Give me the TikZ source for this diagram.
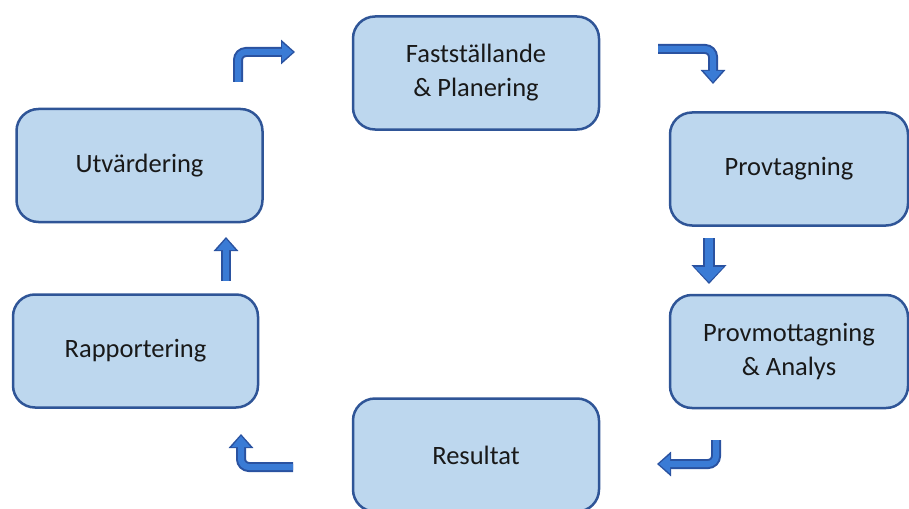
\documentclass[tikz,border=0pt]{standalone}
\usepackage{fontspec}
\setmainfont{Carlito}
\usetikzlibrary{arrows.meta}
\definecolor{boxfill}{HTML}{BDD7EE}
\definecolor{boxline}{HTML}{2F5597}
\definecolor{arrowfill}{HTML}{3A7BD5}
\definecolor{arrowline}{HTML}{2A52A0}
\tikzset{
  flowout/.style={draw=arrowline,line width=10pt,rounded corners=8pt,-{Triangle[length=14pt,width=24pt]}},
  flowin/.style={draw=arrowfill,line width=6pt,rounded corners=8pt,shorten >=2pt,-{Triangle[length=11pt,width=18pt]}},
  wideout/.style={flowout,line width=12pt,-{Triangle[length=19pt,width=34pt]}},
  widein/.style={flowin,line width=8pt,-{Triangle[length=15pt,width=28pt]}},
}
\newcommand{\flowarrow}[2][flow]{\draw[#1out] #2; \draw[#1in] #2;}
\begin{document}
\begin{tikzpicture}[x=1pt,y=-1pt,
  stage/.style={draw=boxline,line width=2.5pt,fill=boxfill,rounded corners=22pt,
    minimum width=246pt,minimum height=113pt,align=center,
    font=\fontsize{26.5}{34}\selectfont,text=black!90}]
  \useasboundingbox (0,0) rectangle (909,508);
  \node[stage] (v1) at (476,73) {Fastställande\\\& Planering};
  \node[stage,minimum width=238pt] (v2) at (789,169) {Provtagning};
  \node[stage,minimum width=238pt] (v3) at (789,351.5) {Provmottagning\\\& Analys};
  \node[stage] (v4) at (476,455) {Resultat};
  \node[stage,minimum width=245pt] (v5) at (135.5,351) {Rapportering};
  \node[stage] (v6) at (139.5,165.5) {Utvärdering};
  % bent arrows between the stages
  \coordinate (a1) at (238,82);  \coordinate (b1) at (238,52);  \coordinate (c1) at (295,52);
  \coordinate (a2) at (658,49);  \coordinate (b2) at (713,49);  \coordinate (c2) at (713,84);
  \coordinate (a3) at (709,238); \coordinate (c3) at (709,284);
  \coordinate (a4) at (716,440); \coordinate (b4) at (716,464); \coordinate (c4) at (657,464);
  \coordinate (a5) at (293,467); \coordinate (b5) at (241,467); \coordinate (c5) at (241,434);
  \coordinate (a6) at (226,281); \coordinate (c6) at (226,237);
  \flowarrow{(a1) -- (b1) -- (c1)}
  \flowarrow{(a2) -- (b2) -- (c2)}
  \flowarrow[wide]{(a3) -- (c3)}
  \flowarrow{(a4) -- (b4) -- (c4)}
  \flowarrow{(a5) -- (b5) -- (c5)}
  \flowarrow{(a6) -- (c6)}
\end{tikzpicture}
\end{document}
